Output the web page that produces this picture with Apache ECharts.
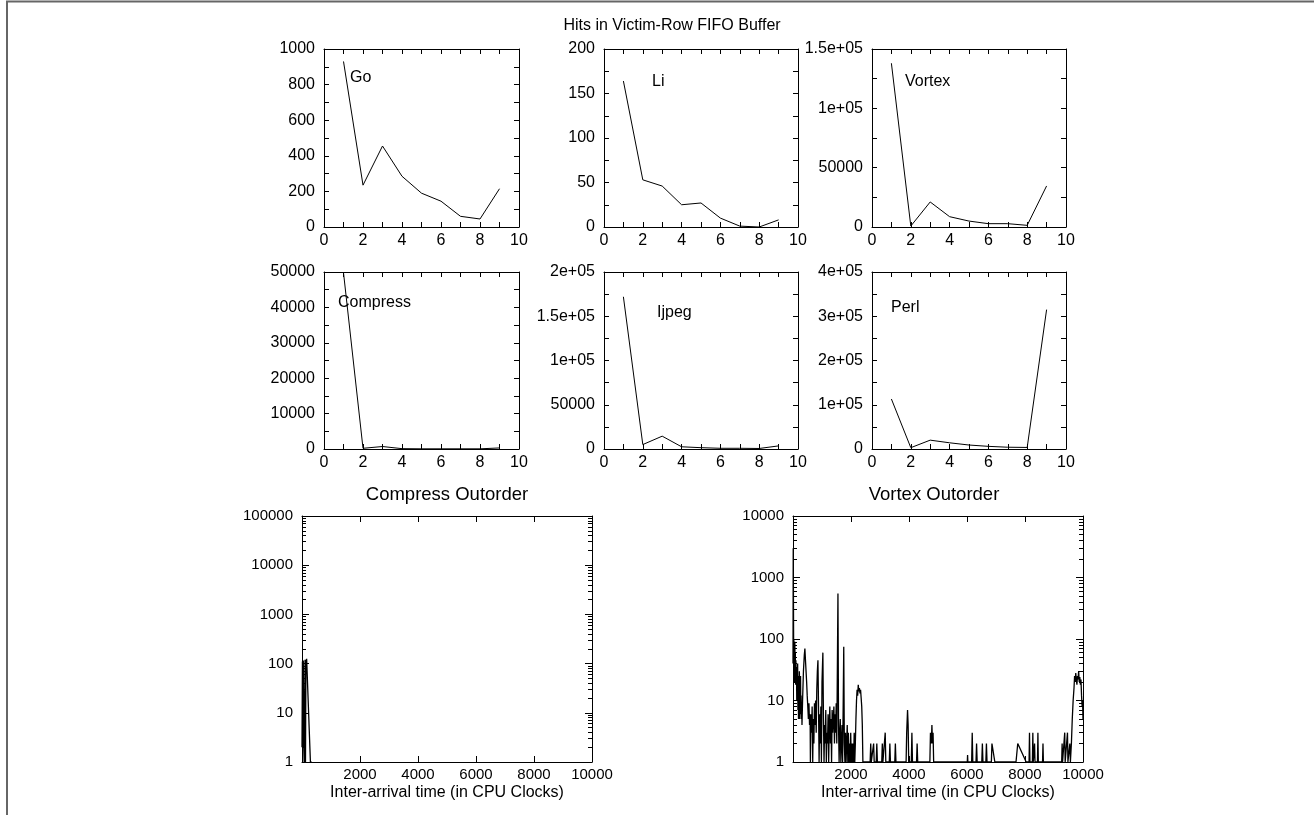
<!DOCTYPE html>
<html>
<head>
<meta charset="utf-8">
<title>Hits in Victim-Row FIFO Buffer</title>
<script src="https://cdn.jsdelivr.net/npm/echarts@6/dist/echarts.min.js"></script>
<style>
  html, body { margin: 0; padding: 0; background: #fff; }
  #chart { width: 1314px; height: 815px; }
</style>
</head>
<body>
<div id="chart"></div>
<script>
// ---- data ----
const mainTitle = 'Hits in Victim-Row FIFO Buffer'
const panelX = [1, 2, 3, 4, 5, 6, 7, 8, 9]

const goHits = [930, 235, 455, 285, 190, 145, 60, 45, 215]
const liHits = [164, 53, 46, 25, 27, 10, 1, 0, 8]
const vortexHits = [138000, 800, 21100, 8700, 5000, 2800, 2800, 1400, 34600]
const compressHits = [49800, 200, 700, 100, 50, 50, 50, 50, 300]
const ijpegHits = [172000, 5000, 14500, 2500, 1500, 800, 800, 600, 3500]
const perlHits = [113000, 3000, 20000, 14000, 9000, 6000, 4000, 3500, 315000]

const panelNames = ['Go', 'Li', 'Vortex', 'Compress', 'Ijpeg', 'Perl']
const panelMax = [1000, 200, 150000, 50000, 200000, 400000]
const panelStep = [200, 50, 50000, 10000, 50000, 100000]

const outTitles = ['Compress Outorder', 'Vortex Outorder']
const outXName = 'Inter-arrival time (in CPU Clocks)'
const outYMax = [100000, 10000]

// [clocks, count]
const compressOutorder = [
	[0, 2], [15, 110], [30, 2], [45, 115], [60, 2], [75, 1], [90, 1], [105, 120], [120, 1],
	[135, 110], [160, 125], [290, 1], [330, 1]
]
const vortexOutorder = [
	[0, 40], [8, 3000], [16, 350], [24, 45], [32, 95], [40, 25], [48, 80], [56, 20], [64, 90], [72, 30],
	[80, 60], [90, 18], [100, 45], [110, 22], [120, 35], [130, 10], [140, 30], [150, 12], [160, 40], [170, 7],
	[180, 25], [190, 5], [200, 20], [210, 9], [220, 30], [230, 5], [240, 15], [250, 8], [260, 25], [270, 6],
	[280, 12], [290, 5], [300, 9], [310, 4], [330, 10], [360, 30], [390, 55], [410, 70], [430, 45], [450, 30],
	[470, 20], [490, 12], [510, 8], [530, 5], [550, 9], [570, 4], [590, 6], [600, 1], [620, 6], [640, 3],
	[660, 8], [680, 1], [700, 5], [720, 2], [740, 9], [760, 4], [780, 10], [800, 3], [820, 15], [840, 30],
	[860, 45], [880, 8], [900, 1], [920, 6], [940, 2], [960, 8], [980, 1], [1000, 20], [1030, 60], [1050, 5],
	[1070, 1], [1090, 4], [1110, 2], [1130, 7], [1150, 1], [1170, 3], [1190, 2], [1210, 6], [1230, 1], [1250, 4],
	[1270, 8], [1290, 2], [1310, 5], [1330, 1], [1350, 7], [1370, 3], [1390, 5], [1410, 8], [1430, 2], [1450, 6],
	[1470, 3], [1490, 9], [1510, 2], [1550, 550], [1570, 4], [1590, 1], [1610, 3], [1630, 5], [1650, 1], [1670, 2],
	[1690, 4], [1710, 1], [1730, 8], [1750, 75], [1770, 2], [1790, 1], [1810, 3], [1830, 1], [1850, 2], [1870, 4],
	[1890, 1], [1910, 3], [1930, 1], [1950, 2], [1970, 1], [1990, 3], [2010, 1], [2030, 2], [2050, 1], [2070, 2],
	[2090, 1], [2110, 3], [2130, 1], [2150, 2], [2170, 5], [2190, 10], [2210, 15], [2230, 12], [2250, 18], [2270, 14],
	[2290, 16], [2310, 13], [2330, 15], [2350, 11], [2370, 8], [2390, 4], [2410, 1], [2660, 1], [2680, 2], [2700, 1],
	[2760, 1], [2780, 2], [2800, 1], [2870, 1], [2890, 2], [2910, 1], [3060, 1], [3080, 2], [3100, 1], [3160, 1],
	[3180, 3], [3200, 1], [3320, 1], [3340, 2], [3360, 1], [3510, 1], [3530, 2], [3550, 1], [3900, 1], [3920, 3],
	[3950, 7], [3970, 4], [3990, 1], [4080, 1], [4100, 3], [4120, 1], [4260, 1], [4280, 2], [4300, 1], [4720, 1],
	[4740, 3], [4770, 2], [4790, 4], [4810, 2], [4830, 3], [4850, 1], [6010, 1], [6020, 1.3], [6030, 1], [6160, 1],
	[6180, 3], [6200, 1], [6310, 1], [6330, 2], [6350, 1], [6510, 1], [6530, 2], [6550, 1], [6650, 1], [6670, 2],
	[6690, 1], [6840, 1], [6860, 2], [6960, 1], [7690, 1], [7750, 2], [8040, 1], [8140, 1], [8155, 3], [8170, 1],
	[8255, 1], [8270, 3], [8285, 1], [8315, 1], [8330, 2], [8345, 1], [8430, 1], [8445, 3], [8460, 1], [8605, 1],
	[8620, 2], [8635, 1], [9265, 1], [9280, 2], [9295, 1], [9355, 1], [9370, 3], [9385, 1], [9450, 1], [9465, 3],
	[9480, 1], [9530, 1], [9547, 2], [9565, 1], [9600, 2], [9630, 5], [9660, 10], [9690, 16], [9710, 25], [9730, 20],
	[9750, 28], [9770, 22], [9790, 18], [9810, 25], [9830, 22], [9850, 30], [9870, 20], [9890, 24], [9910, 18], [9930, 22],
	[9950, 12], [9970, 8], [9985, 10], [10000, 5]
]

// ---- layout ----
const FONT = "'Liberation Sans', Arial, sans-serif"
const smallGrids = [
	{ left: 324, top: 49, width: 195, height: 178 },
	{ left: 604, top: 49, width: 194, height: 178 },
	{ left: 872, top: 49, width: 194, height: 178 },
	{ left: 324, top: 272, width: 195, height: 177 },
	{ left: 604, top: 272, width: 194, height: 177 },
	{ left: 872, top: 272, width: 194, height: 177 }
]
const labelPos = [[350, 70], [652, 74], [905, 74], [338, 295], [657, 305], [891, 300]]
const outGrids = [
	{ left: 302, top: 516, width: 290, height: 246 },
	{ left: 793, top: 516, width: 290, height: 246 }
]

const panelHits = [goHits, liHits, vortexHits, compressHits, ijpegHits, perlHits]

const gnuplotNum = (v) => {
	if (v >= 100000) {
		const e = Math.floor(Math.log10(v))
		const m = +(v / Math.pow(10, e)).toFixed(3)
		return m + 'e+' + (e < 10 ? '0' : '') + e
	}
	return String(Math.round(v))
}

const black = { color: '#000', width: 1 }
const tick = (len) => ({ show: true, inside: true, length: len, lineStyle: black })
const textStyle = (size) => ({ fontFamily: FONT, fontSize: size, fontWeight: 'normal', color: '#000' })

const grid = []
const xAxis = []
const yAxis = []
const series = []
const title = [{ text: mainTitle, left: 672, top: 18, textAlign: 'center', padding: 0, textStyle: textStyle(16) }]

smallGrids.forEach((g, i) => {
	grid.push({ ...g })
	const xi = xAxis.length
	const yi = yAxis.length
	const xBase = {
		gridIndex: i, type: 'value', min: 0, max: 10, interval: 2,
		axisLine: { show: true, onZero: false, lineStyle: black },
		axisTick: tick(5),
		minorTick: { show: true, splitNumber: 2, length: 5, lineStyle: black },
		splitLine: { show: false }
	}
	xAxis.push({ ...xBase, position: 'bottom',
		axisLabel: { color: '#000', fontFamily: FONT, fontSize: 16, margin: 6 } })
	xAxis.push({ ...xBase, position: 'top', axisLabel: { show: false } })
	const yBase = {
		gridIndex: i, type: 'value', min: 0, max: panelMax[i], interval: panelStep[i],
		axisLine: { show: true, onZero: false, lineStyle: black },
		axisTick: tick(5),
		minorTick: { show: true, splitNumber: 2, length: 5, lineStyle: black },
		splitLine: { show: false }
	}
	yAxis.push({ ...yBase, position: 'left',
		axisLabel: { color: '#000', fontFamily: FONT, fontSize: 16, margin: 9, formatter: gnuplotNum } })
	yAxis.push({ ...yBase, position: 'right', axisLabel: { show: false } })
	series.push({
		type: 'line', xAxisIndex: xi, yAxisIndex: yi,
		data: panelX.map((x, k) => [x, panelHits[i][k]]),
		showSymbol: false, symbol: 'none', silent: true,
		lineStyle: { color: '#000', width: 1 }
	})
	title.push({ text: panelNames[i], left: labelPos[i][0], top: labelPos[i][1], padding: 0, textStyle: textStyle(16) })
})

const outData = [compressOutorder, vortexOutorder]
outGrids.forEach((g, j) => {
	const gi = grid.length
	grid.push({ ...g })
	const xi = xAxis.length
	const yi = yAxis.length
	const xBase = {
		gridIndex: gi, type: 'value', min: 0, max: 10000, interval: 2000,
		axisLine: { show: true, onZero: false, lineStyle: black },
		axisTick: tick(6), splitLine: { show: false }
	}
	xAxis.push({ ...xBase, position: 'bottom',
		name: outXName, nameLocation: 'middle', nameGap: 23, nameTextStyle: textStyle(16),
		axisLabel: { color: '#000', fontFamily: FONT, fontSize: 15, margin: 5, showMinLabel: false,
			formatter: (v) => String(v) } })
	xAxis.push({ ...xBase, position: 'top', axisLabel: { show: false } })

	const yBase = {
		gridIndex: gi, type: 'log', logBase: 10, min: 1, max: outYMax[j],
		axisLine: { show: true, onZero: false, lineStyle: black },
		axisTick: tick(7), splitLine: { show: false }
	}
	yAxis.push({ ...yBase, position: 'left',
		axisLabel: { color: '#000', fontFamily: FONT, fontSize: 15, margin: 9,
			formatter: (v) => String(Math.round(v)) } })
	yAxis.push({ ...yBase, position: 'right', axisLabel: { show: false } })

	series.push({
		type: 'line', xAxisIndex: xi, yAxisIndex: yi, data: outData[j],
		showSymbol: false, symbol: 'none', silent: true,
		lineStyle: { color: '#000', width: 1.3 }
	})
	title.push({
		text: outTitles[j], left: g.left + g.width / 2 - (j === 1 ? 4 : 0), top: 485,
		textAlign: 'center', padding: 0, textStyle: textStyle(18.5)
	})
})

// overlay grids carrying the log minor ticks (2..9 in each decade) on a linear exponent scale
outGrids.forEach((g, j) => {
	const gi = grid.length
	grid.push({ ...g })
	const decades = Math.round(Math.log10(outYMax[j]))
	const minorExp = []
	for (let d = 0; d < decades; d++) {
		for (let k = 2; k <= 9; k++) minorExp.push(d + Math.log10(k))
	}
	xAxis.push({ gridIndex: gi, type: 'value', min: 0, max: 1, show: false })
	;['left', 'right'].forEach((pos) => {
		yAxis.push({
			gridIndex: gi, type: 'value', min: 0, max: decades, position: pos,
			axisLine: { show: false }, axisLabel: { show: false }, splitLine: { show: false },
			axisTick: { show: true, inside: true, length: 4, lineStyle: black, customValues: minorExp }
		})
	})
})

const chart = echarts.init(document.getElementById('chart'))
chart.setOption({
	backgroundColor: '#fff',
	animation: false,
	title,
	grid,
	xAxis,
	yAxis,
	series,
	graphic: [
		{ type: 'line', silent: true, shape: { x1: 7, y1: 1, x2: 7, y2: 815 }, style: { stroke: '#666', lineWidth: 2 } },
		{ type: 'line', silent: true, shape: { x1: 6, y1: 1.5, x2: 1314, y2: 1.5 }, style: { stroke: '#666', lineWidth: 2 } }
	]
})
</script>
</body>
</html>
